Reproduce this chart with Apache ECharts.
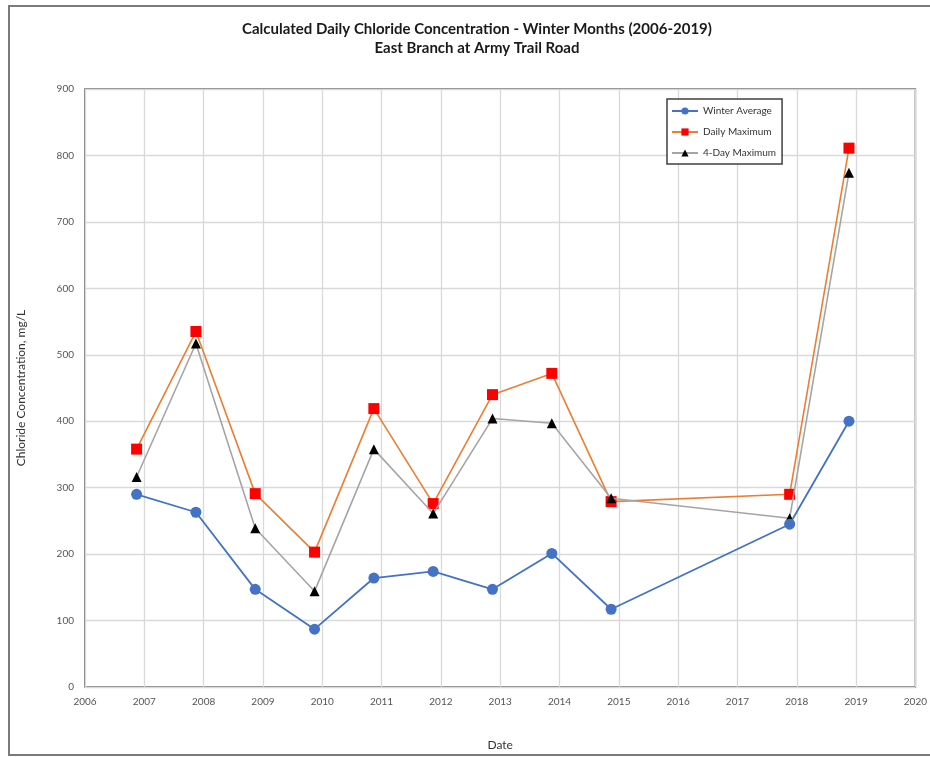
<!DOCTYPE html>
<html>
<head>
<meta charset="utf-8">
<script src="https://cdn.jsdelivr.net/npm/echarts@6/dist/echarts.min.js"></script>
<style>html,body{margin:0;padding:0;background:#fff}#c{width:930px;height:757px}</style>
</head>
<body>
<div id="c"></div>
<script>
// Data (x = decimal year of the winter sample, y = mg/L)
const xYears = [2006.87, 2007.87, 2008.87, 2009.87, 2010.87, 2011.87, 2012.87, 2013.87, 2014.87, 2017.88, 2018.88];
const winterAverage = [290, 263, 147, 87, 164, 174, 147, 201, 117, 245, 400];
const dailyMaximum = [358, 535, 291, 203, 419, 276, 440, 472, 279, 290, 811];
const fourDayMaximum = [316, 517, 239, 144, 358, 261, 404, 397, 284, 254, 774];
const seriesNames = ['Winter Average', 'Daily Maximum', '4-Day Maximum'];
const titleLines = ['Calculated Daily Chloride Concentration - Winter Months (2006-2019)', 'East Branch at Army Trail Road'];

const pair = (ys) => xYears.map((x, i) => [x, ys[i]]);
const FONT = 'Lato, "Open Sans", sans-serif';

const chart = echarts.init(document.getElementById('c'), null, {renderer: 'canvas'});
chart.setOption({
  backgroundColor: '#fff',
  animation: false,
  title: {
    text: titleLines.join('\n'),
    left: 472, top: 15, textAlign: 'center',
    textStyle: {fontFamily: FONT, fontWeight: 'bold', fontSize: 15, color: '#1a1a1a', lineHeight: 19}
  },
  graphic: [{
    type: 'rect', silent: true, z: -1,
    shape: {x: 9, y: 6, width: 940, height: 749},
    style: {fill: 'none', stroke: '#7a7a7a', lineWidth: 2}
  }],
  legend: {
    orient: 'vertical', left: 667, top: 99,
    data: seriesNames,
    backgroundColor: '#fff',
    borderColor: '#404040', borderWidth: 1.5, borderRadius: 0,
    padding: [7, 6, 6, 4], itemGap: 11,
    itemWidth: 26, itemHeight: 9,
    textStyle: {fontFamily: FONT, fontSize: 10, color: '#333'}
  },
  grid: {left: 85, right: 14, top: 89, bottom: 70, show: true, borderColor: '#595959', borderWidth: 1.5, backgroundColor: 'transparent'},
  xAxis: {
    type: 'value', min: 2006, max: 2020, interval: 1,
    name: 'Date', nameLocation: 'middle', nameGap: 52,
    nameTextStyle: {fontFamily: FONT, fontSize: 12, color: '#333'},
    axisLine: {show: false}, axisTick: {show: false},
    axisLabel: {fontFamily: FONT, fontSize: 10, color: '#555', margin: 10, formatter: (v) => String(v)},
    splitLine: {show: true, lineStyle: {color: '#d9d9d9', width: 1.3}}
  },
  yAxis: {
    type: 'value', min: 0, max: 900, interval: 100,
    name: 'Chloride Concentration, mg/L', nameLocation: 'middle', nameGap: 58, nameRotate: 90,
    nameTextStyle: {fontFamily: FONT, fontSize: 12, color: '#333'},
    axisLine: {show: false}, axisTick: {show: false},
    axisLabel: {fontFamily: FONT, fontSize: 10, color: '#555', margin: 11},
    splitLine: {show: true, lineStyle: {color: '#d9d9d9', width: 1.3}}
  },
  series: [
    {
      name: seriesNames[1], type: 'line', data: pair(dailyMaximum), z: 3,
      symbol: 'rect', symbolSize: 11,
      lineStyle: {color: '#ed7d31', width: 1.6},
      itemStyle: {color: '#ff0000', borderWidth: 0}
    },
    {
      name: seriesNames[2], type: 'line', data: pair(fourDayMaximum), z: 4,
      symbol: 'triangle', symbolSize: 10,
      lineStyle: {color: '#a5a5a5', width: 1.6},
      itemStyle: {color: '#000000', borderWidth: 0}
    },
    {
      name: seriesNames[0], type: 'line', data: pair(winterAverage), z: 5,
      symbol: 'circle', symbolSize: 11,
      lineStyle: {color: '#4472c4', width: 1.8},
      itemStyle: {color: '#4472c4', borderWidth: 0}
    }
  ]
});
</script>
</body>
</html>
